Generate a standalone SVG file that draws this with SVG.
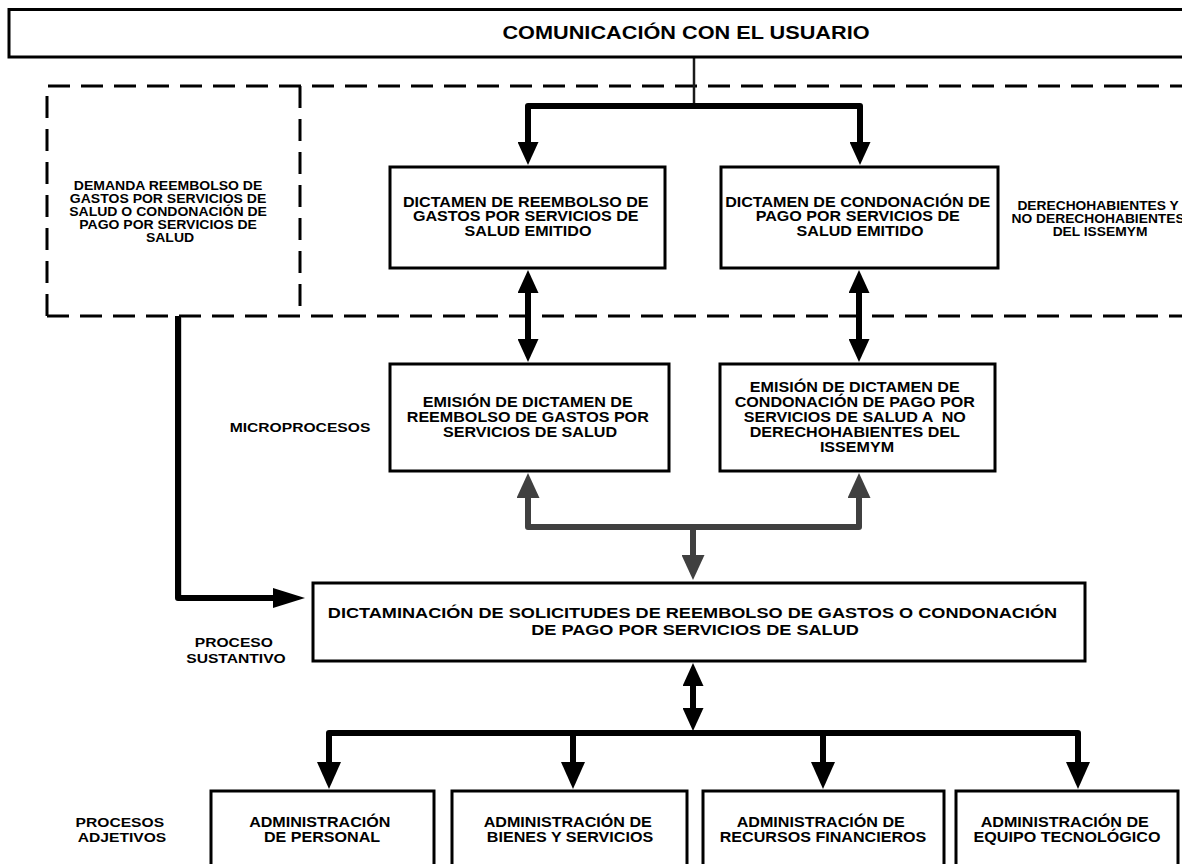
<svg xmlns="http://www.w3.org/2000/svg" width="1182" height="864" viewBox="0 0 1182 864">
  <style>
    .box { fill: #fff; stroke: #000; stroke-width: 3; }
    .dash { fill: none; stroke: #000; stroke-width: 3; stroke-dasharray: 22 11; }
    .t { font-family: "Liberation Sans", Arial, sans-serif; font-weight: bold; fill: #000; text-anchor: middle; }
    .wire { fill: none; stroke: #000; stroke-width: 6; stroke-linejoin: round; }
    .grey { fill: none; stroke: #404040; stroke-width: 6; stroke-linejoin: round; }
    .thin { fill: none; stroke: #1a1a1a; stroke-width: 2.5; }
  </style>
  <defs>
    <marker id="ah" markerUnits="userSpaceOnUse" viewBox="0 0 23 21" markerWidth="23" markerHeight="21" refX="1" refY="10.5" orient="auto-start-reverse">
      <path d="M0,0 L23,10.5 L0,21 Z" fill="#000"/>
    </marker>
    <marker id="ahL" markerUnits="userSpaceOnUse" viewBox="0 0 27 24" markerWidth="27" markerHeight="24" refX="1" refY="12" orient="auto-start-reverse">
      <path d="M0,0 L27,12 L0,24 Z" fill="#000"/>
    </marker>
    <marker id="ahW" markerUnits="userSpaceOnUse" viewBox="0 0 32 20" markerWidth="32" markerHeight="20" refX="1" refY="10" orient="auto-start-reverse">
      <path d="M0,0 L32,10 L0,20 Z" fill="#000"/>
    </marker>
    <marker id="ahG" markerUnits="userSpaceOnUse" viewBox="0 0 25 23" markerWidth="25" markerHeight="23" refX="1" refY="11.5" orient="auto-start-reverse">
      <path d="M0,0 L25,11.5 L0,23 Z" fill="#404040"/>
    </marker>
  </defs>

  <!-- dashed boundaries -->
  <g id="boundaries">
    <path class="dash" d="M47,316 V86 H1182"/>
    <path class="dash" d="M47,316 H1182"/>
    <path class="dash" d="M300,86 V316"/>
  </g>

  <!-- connectors -->
  <g id="connectors">
    <path class="thin" d="M694,57 V106"/>
    <path class="wire" d="M528,143 V106 H860 V143" marker-start="url(#ah)" marker-end="url(#ah)"/>
    <path class="wire" d="M528,292 V340" marker-start="url(#ah)" marker-end="url(#ah)"/>
    <path class="wire" d="M859,292 V340" marker-start="url(#ah)" marker-end="url(#ah)"/>
    <path class="grey" d="M528,497 V527 H859 V497" marker-start="url(#ahG)" marker-end="url(#ahG)"/>
    <path class="grey" d="M693,527 V556" marker-end="url(#ahG)"/>
    <path stroke="#cfcfcf" stroke-width="2" fill="none" d="M181,318 V596"/>
    <path class="wire" d="M178,316 V598 H274" stroke-linejoin="miter" marker-end="url(#ahW)"/>
    <path class="wire" d="M693,685 V709" marker-start="url(#ah)" marker-end="url(#ah)"/>
    <path class="wire" d="M329,763 V733 H1078 V763" marker-start="url(#ahL)" marker-end="url(#ahL)"/>
    <path class="wire" d="M573,733 V763" marker-end="url(#ahL)"/>
    <path class="wire" d="M823,733 V763" marker-end="url(#ahL)"/>
  </g>

  <!-- user communication banner -->
  <g id="usuario">
    <rect class="box" x="9" y="9.5" width="1190" height="47.5"/>
    <text class="t" font-size="17.5" transform="translate(686 0) scale(1.24 1)" x="0" y="39">COMUNICACIÓN CON EL USUARIO</text>
  </g>

  <g id="demanda">
    <text class="t" font-size="12.3" transform="translate(170 0) scale(1.14 1)">
      <tspan x="0" y="190.5">DEMANDA REEMBOLSO DE</tspan>
      <tspan x="0" y="203.5">GASTOS POR SERVICIOS DE</tspan>
      <tspan x="0" y="216.5">SALUD O CONDONACIÓN DE</tspan>
      <tspan x="0" y="229.5">PAGO POR SERVICIOS DE</tspan>
      <tspan x="0" y="242.5">SALUD</tspan>
    </text>
  </g>

  <g id="dictamen-reembolso">
    <rect class="box" x="390" y="167" width="275" height="101"/>
    <text class="t" font-size="14" transform="translate(528 0) scale(1.15 1)">
      <tspan x="0" y="207">DICTAMEN DE REEMBOLSO DE</tspan>
      <tspan x="0" y="221.5">GASTOS POR SERVICIOS DE</tspan>
      <tspan x="0" y="236">SALUD EMITIDO</tspan>
    </text>
  </g>

  <g id="dictamen-condonacion">
    <rect class="box" x="721" y="167" width="277" height="101"/>
    <text class="t" font-size="14" transform="translate(860 0) scale(1.15 1)">
      <tspan x="0" y="207">DICTAMEN DE CONDONACIÓN DE</tspan>
      <tspan x="0" y="221.5">PAGO POR SERVICIOS DE</tspan>
      <tspan x="0" y="236">SALUD EMITIDO</tspan>
    </text>
  </g>

  <g id="derechohabientes">
    <text class="t" font-size="12" transform="translate(1100 0) scale(1.15 1)">
      <tspan x="0" y="210">DERECHOHABIENTES Y</tspan>
      <tspan x="0" y="223">NO DERECHOHABIENTES</tspan>
      <tspan x="0" y="236">DEL ISSEMYM</tspan>
    </text>
  </g>

  <g id="microprocesos">
    <text class="t" font-size="13.6" transform="translate(300 0) scale(1.15 1)" x="0" y="432">MICROPROCESOS</text>
  </g>

  <g id="emision-reembolso">
    <rect class="box" x="390" y="364" width="279" height="107"/>
    <text class="t" font-size="14" transform="translate(530 0) scale(1.15 1)">
      <tspan x="0" y="407">EMISIÓN DE DICTAMEN DE</tspan>
      <tspan x="0" y="422">REEMBOLSO DE GASTOS POR</tspan>
      <tspan x="0" y="437">SERVICIOS DE SALUD</tspan>
    </text>
  </g>

  <g id="emision-condonacion">
    <rect class="box" x="720" y="364" width="275" height="107"/>
    <text class="t" font-size="14" transform="translate(857 0) scale(1.15 1)">
      <tspan x="0" y="392">EMISIÓN DE DICTAMEN DE</tspan>
      <tspan x="0" y="407">CONDONACIÓN DE PAGO POR</tspan>
      <tspan x="0" y="422" xml:space="preserve">SERVICIOS DE SALUD A  NO</tspan>
      <tspan x="0" y="437">DERECHOHABIENTES DEL</tspan>
      <tspan x="0" y="452">ISSEMYM</tspan>
    </text>
  </g>

  <g id="dictaminacion">
    <rect class="box" x="313" y="583" width="772" height="78"/>
    <text class="t" font-size="15.5" transform="translate(695 0) scale(1.17 1)">
      <tspan x="0" y="618">DICTAMINACIÓN DE SOLICITUDES DE REEMBOLSO DE GASTOS O CONDONACIÓN</tspan>
      <tspan x="0" y="635">DE PAGO POR SERVICIOS DE SALUD</tspan>
    </text>
  </g>

  <g id="proceso-sustantivo">
    <text class="t" font-size="13.6" transform="translate(236 0) scale(1.15 1)">
      <tspan x="0" y="647">PROCESO</tspan>
      <tspan x="0" y="663">SUSTANTIVO</tspan>
    </text>
  </g>

  <g id="procesos-adjetivos">
    <text class="t" font-size="13.6" transform="translate(122 0) scale(1.15 1)">
      <tspan x="0" y="827">PROCESOS</tspan>
      <tspan x="0" y="842">ADJETIVOS</tspan>
    </text>
  </g>

  <g id="adm-personal">
    <rect class="box" x="211" y="791" width="223" height="90"/>
    <text class="t" font-size="14" transform="translate(322 0) scale(1.15 1)">
      <tspan x="0" y="827">ADMINISTRACIÓN</tspan>
      <tspan x="0" y="842">DE PERSONAL</tspan>
    </text>
  </g>

  <g id="adm-bienes">
    <rect class="box" x="452" y="791" width="235" height="90"/>
    <text class="t" font-size="14" transform="translate(570 0) scale(1.15 1)">
      <tspan x="0" y="827">ADMINISTRACIÓN DE</tspan>
      <tspan x="0" y="842">BIENES Y SERVICIOS</tspan>
    </text>
  </g>

  <g id="adm-financieros">
    <rect class="box" x="703" y="791" width="241" height="90"/>
    <text class="t" font-size="14" transform="translate(823 0) scale(1.15 1)">
      <tspan x="0" y="827">ADMINISTRACIÓN DE</tspan>
      <tspan x="0" y="842">RECURSOS FINANCIEROS</tspan>
    </text>
  </g>

  <g id="adm-tecnologico">
    <rect class="box" x="956" y="791" width="222" height="90"/>
    <text class="t" font-size="14" transform="translate(1067 0) scale(1.15 1)">
      <tspan x="0" y="827">ADMINISTRACIÓN DE</tspan>
      <tspan x="0" y="842">EQUIPO TECNOLÓGICO</tspan>
    </text>
  </g>
</svg>
